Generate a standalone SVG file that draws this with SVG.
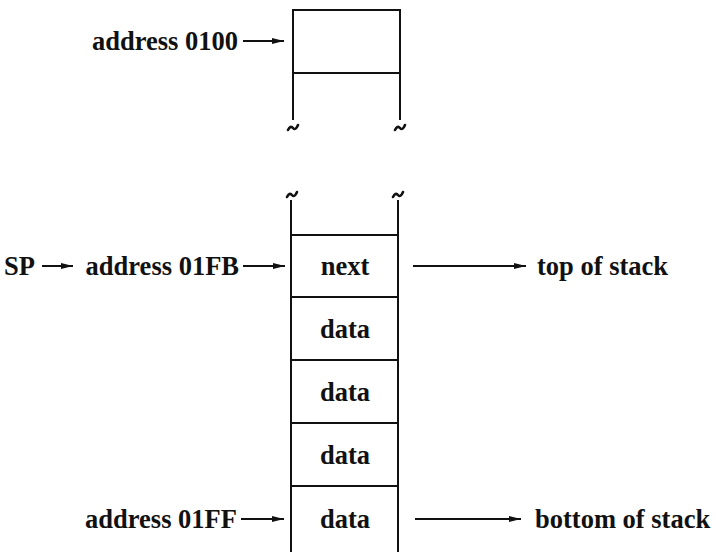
<svg xmlns="http://www.w3.org/2000/svg" width="716" height="552" viewBox="0 0 716 552">
<style>
text{font-family:"Liberation Serif","Times New Roman",serif;font-size:26.5px;font-weight:bold;fill:#111;dominant-baseline:central}
.c{text-anchor:middle}
.e{text-anchor:end}
.ln{stroke:#111;stroke-width:2;fill:none}
.ar{stroke:#111;stroke-width:2;fill:none;marker-end:url(#ah)}
.tl{stroke:#111;stroke-width:2.6;fill:none;stroke-linecap:round}
</style>
<defs>
<marker id="ah" viewBox="0 0 12 8" refX="12" refY="4" markerWidth="12" markerHeight="8" markerUnits="userSpaceOnUse" orient="auto">
<path d="M0,1 L12,4 L0,7 Z" fill="#111"/>
</marker>
</defs>
<g id="top-block">
<path class="ln" d="M293,120 V10 H400 V120 M293,73 H400"/>
<path class="tl" d="M288,130 q2.5,-5 5,-2 t5,-3"/>
<path class="tl" d="M395,130 q2.5,-5 5,-2 t5,-3"/>
</g>
<g id="stack">
<path class="tl" d="M287,197 q2.5,-5 5,-2 t5,-3"/>
<path class="tl" d="M393,197 q2.5,-5 5,-2 t5,-3"/>
<path class="ln" d="M291,200 V552 M398,200 V552 M291,235 H398 M291,297 H398 M291,360 H398 M291,423 H398 M291,486 H398"/>
</g>
<g id="cell-next"><text class="c" x="345" y="266">next</text></g>
<g id="cell-data1"><text class="c" x="345" y="329">data</text></g>
<g id="cell-data2"><text class="c" x="345" y="392">data</text></g>
<g id="cell-data3"><text class="c" x="345" y="455">data</text></g>
<g id="cell-data4"><text class="c" x="345" y="519">data</text></g>
<g id="label-0100"><text class="e" x="238" y="41">address 0100</text></g>
<g id="label-sp"><text x="4" y="266">SP</text></g>
<g id="label-01FB"><text class="e" x="239" y="266">address 01FB</text></g>
<g id="label-01FF"><text class="e" x="237" y="519">address 01FF</text></g>
<g id="label-top"><text x="537" y="266">top of stack</text></g>
<g id="label-bottom"><text x="535" y="519">bottom of stack</text></g>
<g id="connectors">
<line class="ar" x1="243" y1="41" x2="284" y2="41"/>
<line class="ar" x1="42" y1="266" x2="73" y2="266"/>
<line class="ar" x1="243" y1="266" x2="285" y2="266"/>
<line class="ar" x1="241" y1="519" x2="284" y2="519"/>
<line class="ar" x1="413" y1="266" x2="526" y2="266"/>
<line class="ar" x1="415" y1="519" x2="521" y2="519"/>
</g>
</svg>
